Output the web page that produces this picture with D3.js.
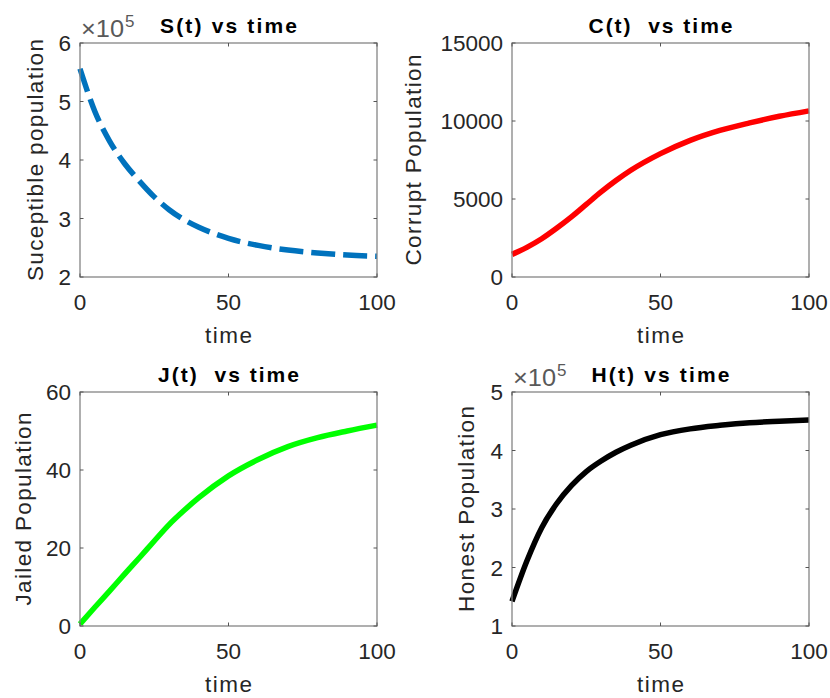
<!DOCTYPE html>
<head>
  <style>
    body { margin: 0; background: #fff; }
    text { font-family: "Liberation Sans", Arial, sans-serif; fill: #262626; white-space: pre; }
  </style>
  <title>Population vs time</title>
</head>
<body>
  <script src="https://cdn.jsdelivr.net/npm/d3@7/dist/d3.min.js"></script>
  <script>
    // data
    const time = [0, 5, 10, 15, 20, 25, 30, 35, 40, 50, 60, 70, 80, 90, 100];
    const susceptible = [5.56, 4.83, 4.32, 3.94, 3.64, 3.37, 3.15, 2.98, 2.85, 2.66, 2.54, 2.46, 2.41, 2.375, 2.355]; // x 1e5
    const corrupt = [1450, 1900, 2450, 3120, 3850, 4650, 5450, 6180, 6840, 7910, 8760, 9400, 9880, 10300, 10650];
    const jailed = [0.5, 4.8, 9.0, 13.3, 17.5, 21.8, 26.0, 29.6, 32.9, 38.5, 42.7, 46.0, 48.3, 50.0, 51.5];
    const honest = [1.42, 2.11, 2.68, 3.09, 3.40, 3.64, 3.82, 3.97, 4.09, 4.27, 4.37, 4.43, 4.475, 4.50, 4.52]; // x 1e5

    const xTicks = [0, 50, 100];

    const panels = [
      { title: "S(t) vs time", titleW: 137, ylabel: "Suceptible population", ylabelW: 242, values: susceptible,
        yDomain: [2, 6], yTicks: [2, 3, 4, 5, 6], color: "#0072bd", dash: "24,8", exp: true, left: 80, top: 43, ylabelX: 43 },
      { title: "C(t)  vs time", titleW: 144, ylabel: "Corrupt Population", ylabelW: 211, values: corrupt,
        yDomain: [0, 15000], yTicks: [0, 5000, 10000, 15000], color: "#ff0000", dash: null, exp: false, left: 512, top: 43, ylabelX: 421 },
      { title: "J(t)  vs time", titleW: 141, ylabel: "Jailed Population", ylabelW: 193, values: jailed,
        yDomain: [0, 60], yTicks: [0, 20, 40, 60], color: "#00ff00", dash: null, exp: false, left: 80, top: 392, ylabelX: 31 },
      { title: "H(t) vs time", titleW: 138, ylabel: "Honest Population", ylabelW: 206, values: honest,
        yDomain: [1, 5], yTicks: [1, 2, 3, 4, 5], color: "#000000", dash: null, exp: true, left: 512, top: 392, ylabelX: 474 }
    ];

    const width = 297, height = 234;

    const svg = d3.select("body").append("svg")
      .attr("width", 830)
      .attr("height", 698);

    panels.forEach(p => {
      const x = d3.scaleLinear().domain([0, 100]).range([0, width]);
      const y = d3.scaleLinear().domain(p.yDomain).range([height, 0]);

      const g = svg.append("g").attr("transform", `translate(${p.left},${p.top})`);

      // curve (drawn under the box)
      const line = d3.line()
        .x((d, i) => x(time[i]))
        .y(d => y(d))
        .curve(d3.curveMonotoneX);

      g.append("path")
        .datum(p.values)
        .attr("fill", "none")
        .attr("stroke", p.color)
        .attr("stroke-width", 5.5)
        .attr("stroke-dasharray", p.dash)
        .attr("d", line);

      // box
      g.append("rect")
        .attr("width", width).attr("height", height)
        .attr("fill", "none").attr("stroke", "#858585").attr("stroke-width", 1.3);

      // inward ticks on all sides
      const tk = 3.5;
      xTicks.forEach(t => {
        g.append("line").attr("x1", x(t)).attr("x2", x(t)).attr("y1", height).attr("y2", height - tk).attr("stroke", "#555");
        g.append("line").attr("x1", x(t)).attr("x2", x(t)).attr("y1", 0).attr("y2", tk).attr("stroke", "#555");
      });
      p.yTicks.forEach(t => {
        g.append("line").attr("x1", 0).attr("x2", tk).attr("y1", y(t)).attr("y2", y(t)).attr("stroke", "#555");
        g.append("line").attr("x1", width).attr("x2", width - tk).attr("y1", y(t)).attr("y2", y(t)).attr("stroke", "#555");
      });

      // tick labels
      g.selectAll(".xt").data(xTicks).enter().append("text")
        .attr("x", d => x(d)).attr("y", height + 33)
        .attr("text-anchor", "middle").style("font-size", "22.5px")
        .text(d => d);
      g.selectAll(".yt").data(p.yTicks).enter().append("text")
        .attr("x", -9).attr("y", d => y(d) + 8)
        .attr("text-anchor", "end").style("font-size", "22.5px")
        .text(d => d);

      // exponent label
      if (p.exp) {
        const e = g.append("text").attr("x", 1).attr("y", -6)
          .style("font-size", "23px").style("fill", "#595959");
        e.append("tspan").attr("textLength", 43).attr("lengthAdjust", "spacingAndGlyphs").text("\u00d710");
        e.append("tspan").attr("dy", -10).attr("dx", 1).style("font-size", "17px").text("5");
      }

      // title
      g.append("text")
        .attr("x", width / 2).attr("y", -10.5)
        .attr("text-anchor", "middle")
        .attr("textLength", p.titleW).attr("lengthAdjust", "spacing")
        .style("font-size", "21px").style("font-weight", "bold").style("fill", "#000")
        .text(p.title);

      // x label
      g.append("text")
        .attr("x", width / 2).attr("y", height + 66)
        .attr("text-anchor", "middle")
        .attr("textLength", 47).attr("lengthAdjust", "spacing")
        .style("font-size", "22.5px")
        .text("time");

      // y label
      svg.append("text")
        .attr("transform", `translate(${p.ylabelX},${p.top + height / 2}) rotate(-90)`)
        .attr("text-anchor", "middle")
        .attr("textLength", p.ylabelW).attr("lengthAdjust", "spacing")
        .style("font-size", "22.5px")
        .text(p.ylabel);
    });
  </script>
</body>
